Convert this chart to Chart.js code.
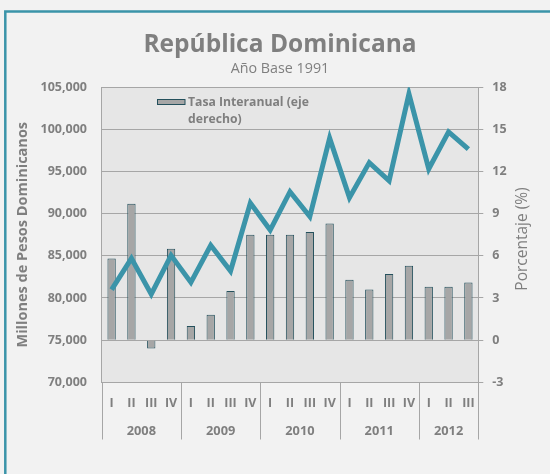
<!DOCTYPE html>
<html>
<head>
<meta charset="utf-8">
<script src="https://cdn.jsdelivr.net/npm/chart.js@4.4.1/dist/chart.umd.min.js"></script>
<style>
  body { margin: 0; background: #f2f2f2; }
  canvas { display: block; }
</style>
</head>
<body>
<canvas id="chart" width="550" height="474"></canvas>
<script>
const quarterLabels = ['I', 'II', 'III', 'IV', 'I', 'II', 'III', 'IV', 'I', 'II', 'III', 'IV', 'I', 'II', 'III', 'IV', 'I', 'II', 'III'];
const yearLabels = ['2008', '2009', '2010', '2011', '2012'];
const quartersPerYear = [4, 4, 4, 4, 3];

// PIB trimestral, millones de RD$ (eje izquierdo)
const pibValues = [81000, 84700, 80450, 85050, 81850, 86250, 83200, 91250, 88050, 92600,
                   89650, 98950, 91900, 96050, 93900, 104200, 95300, 99700, 97650];
// Tasa interanual, % (eje derecho)
const tasaValues = [5.8, 9.7, -0.6, 6.5, 1.0, 1.8, 3.5, 7.5, 7.5, 7.5,
                    7.7, 8.3, 4.3, 3.6, 4.7, 5.3, 3.8, 3.8, 4.1];

const leftTicks = { min: 70000, max: 105000, step: 5000 };
const rightTicks = { min: -3, max: 18, step: 3 };

const gray = '#7f7f7f';
const teal = '#3b94a9';
const FONT = '"Open Sans"';

// year centres and boundaries on the 0..19 quarter scale
const yearBounds = [0];
quartersPerYear.forEach(n => yearBounds.push(yearBounds[yearBounds.length - 1] + n));
const yearCenters = yearLabels.map((_, i) => (yearBounds[i] + yearBounds[i + 1]) / 2);

const framePlugin = {
    id: 'frame',
    beforeDraw(chart) {
        const { ctx, chartArea } = chart;
        ctx.save();
        ctx.fillStyle = '#e6e6e6';
        ctx.fillRect(chartArea.left, chartArea.top, chartArea.right - chartArea.left, chartArea.bottom - chartArea.top);
        ctx.strokeStyle = teal;
        ctx.lineWidth = 2.5;
        ctx.beginPath();
        ctx.moveTo(5.3, 474);
        ctx.lineTo(5.3, 11.5);
        ctx.lineTo(550, 11.5);
        ctx.stroke();
        ctx.restore();
    },
    afterDraw(chart) {
        const { ctx, chartArea, scales } = chart;
        ctx.save();
        // year separators below the plot
        ctx.strokeStyle = '#a6a6a6';
        ctx.lineWidth = 1;
        yearBounds.forEach(b => {
            const x = Math.round(scales.x2.getPixelForValue(b)) + 0.5;
            ctx.beginPath();
            ctx.moveTo(x, chartArea.bottom);
            ctx.lineTo(x, 439.5);
            ctx.stroke();
        });
        // right axis title, read bottom to top
        ctx.fillStyle = gray;
        ctx.font = '15.5px ' + FONT;
        ctx.textAlign = 'center';
        ctx.textBaseline = 'middle';
        ctx.translate(523, 239);
        ctx.rotate(-Math.PI / 2);
        ctx.fillText('Porcentaje (%)', 0, 0);
        ctx.restore();

        // legend inside the plot
        const ds = chart.data.datasets[0];
        ctx.save();
        ctx.fillStyle = ds.backgroundColor;
        ctx.strokeStyle = ds.borderColor;
        ctx.lineWidth = 1;
        ctx.fillRect(157, 99, 28, 5.5);
        ctx.strokeRect(157.5, 99.5, 27.5, 5);
        ctx.fillStyle = gray;
        ctx.font = 'bold 12.2px ' + FONT;
        ctx.textAlign = 'left';
        ctx.textBaseline = 'middle';
        const words = ds.label.split(' ');
        ctx.fillText(words.slice(0, 3).join(' '), 188, 103);
        ctx.fillText(words.slice(3).join(' '), 188, 120);
        ctx.restore();
    }
};

const ctx = document.getElementById('chart');
const myChart = new Chart(ctx, {
    type: 'bar',
    data: {
        labels: quarterLabels,
        datasets: [{
            type: 'bar',
            label: 'Tasa Interanual (eje derecho)',
            data: tasaValues,
            yAxisID: 'y1',
            backgroundColor: '#a6a6a6',
            borderColor: '#24505c',
            borderWidth: 1,
            barPercentage: 0.42,
            categoryPercentage: 1,
            order: 2
        }, {
            type: 'line',
            label: 'PIB trimestral (millones RD$)',
            data: pibValues,
            yAxisID: 'y',
            borderColor: teal,
            borderWidth: 5,
            pointRadius: 0,
            tension: 0,
            fill: false,
            order: 1
        }]
    },
    options: {
        responsive: false,
        animation: false,
        layout: { padding: { left: 10, right: 0, top: 0, bottom: 29.7 } },
        plugins: {
            legend: { display: false },
            tooltip: { enabled: false },
            title: {
                display: true,
                text: 'República Dominicana',
                color: gray,
                font: { family: FONT, size: 24.5, weight: 'bold' },
                padding: { top: 30, bottom: 0 }
            },
            subtitle: {
                display: true,
                text: 'Año Base 1991',
                color: gray,
                font: { family: FONT, size: 14.3 },
                padding: { top: 1.4, bottom: 9.2 }
            }
        },
        scales: {
            x: {
                position: 'bottom',
                grid: { display: false },
                border: { display: false },
                ticks: {
                    color: gray,
                    font: { family: FONT, size: 12.5, weight: 'bold' },
                    padding: 6,
                    maxRotation: 0,
                    autoSkip: false
                },
                afterFit: s => { s.height = 32; }
            },
            x2: {
                type: 'linear',
                position: 'bottom',
                offset: false,
                min: 0,
                max: quarterLabels.length,
                grid: { display: false, offset: false },
                border: { display: false },
                afterBuildTicks: s => { s.ticks = yearCenters.map(v => ({ value: v })); },
                ticks: {
                    color: gray,
                    font: { family: FONT, size: 12.8, weight: 'bold' },
                    padding: 1,
                    callback: (v, i) => yearLabels[i]
                },
                afterFit: s => { s.height = 30; }
            },
            y: {
                position: 'left',
                min: leftTicks.min,
                max: leftTicks.max,
                grid: { color: '#a6a6a6', drawTicks: false },
                border: { display: true, color: '#a6a6a6' },
                ticks: {
                    stepSize: leftTicks.step,
                    color: gray,
                    font: { family: FONT, size: 12.5, weight: 'bold' },
                    padding: 14.7,
                    callback: v => v.toLocaleString('en-US')
                },
                title: {
                    display: true,
                    text: 'Millones de Pesos Dominicanos',
                    color: gray,
                    font: { family: FONT, size: 14.5, weight: 'bold' },
                    padding: { top: 4, bottom: 0 }
                },
                afterFit: s => { s.width = 91.7; }
            },
            y1: {
                position: 'right',
                min: rightTicks.min,
                max: rightTicks.max,
                grid: { drawOnChartArea: false, color: '#a6a6a6', tickLength: 5 },
                border: { display: true, color: '#a6a6a6' },
                ticks: {
                    stepSize: rightTicks.step,
                    color: gray,
                    font: { family: FONT, size: 12.5, weight: 'bold' },
                    padding: 9
                },
                afterFit: s => { s.width = 71.7; }
            }
        }
    },
    plugins: [framePlugin]
});
</script>
</body>
</html>
